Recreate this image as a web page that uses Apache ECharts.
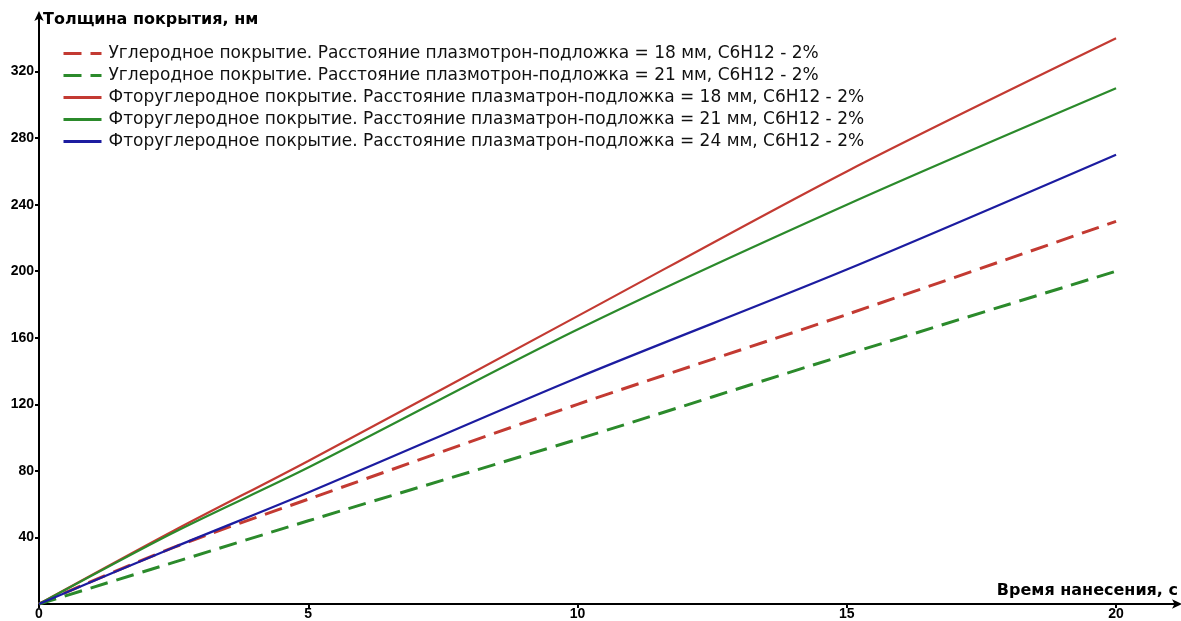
<!DOCTYPE html>
<html><head><meta charset="utf-8">
<script src="https://cdn.jsdelivr.net/npm/echarts@6/dist/echarts.min.js"></script>
<style>html,body{margin:0;padding:0;background:#fff}#c{width:1181px;height:621px}</style>
</head><body><div id="c"></div>
<script>
const timeValues = [0, 2.5, 5, 10, 15, 20];
const carbon18 = [0, 34, 63, 120, 174, 230];
const carbon21 = [0, 25, 50, 99, 150, 200];
const fluoro18 = [0, 44, 86, 173, 260, 340];
const fluoro21 = [0, 43, 82, 165, 240, 310];
const fluoro24 = [0, 34, 67, 136, 201, 270];
const seriesNames = [
  'Углеродное покрытие. Расстояние плазмотрон-подложка = 18 мм, C6H12 - 2%',
  'Углеродное покрытие. Расстояние плазмотрон-подложка = 21 мм, C6H12 - 2%',
  'Фторуглеродное покрытие. Расстояние плазматрон-подложка = 18 мм, C6H12 - 2%',
  'Фторуглеродное покрытие. Расстояние плазматрон-подложка = 21 мм, C6H12 - 2%',
  'Фторуглеродное покрытие. Расстояние плазматрон-подложка = 24 мм, C6H12 - 2%'
];
const xTicks = [0, 5, 10, 15, 20];
const yTicks = [40, 80, 120, 160, 200, 240, 280, 320];

const RED = '#c33a32', GREEN = '#2b8a2b', BLUE = '#1c1ca0';
const LAB = "'Liberation Sans', Arial, sans-serif";
const DJ = "'DejaVu Sans', sans-serif";
const pair = arr => arr.map((v, i) => [timeValues[i], v]);
function mk(name, data, color, dashed) {
  return {
    name, type: 'line', data: pair(data), symbol: 'none', smooth: 0.3,
    lineStyle: { color, width: dashed ? 3 : 2.2, type: dashed ? [18, 9] : 'solid' },
    itemStyle: { color }
  };
}
const chart = echarts.init(document.getElementById('c'));
chart.setOption({
  animation: false,
  backgroundColor: '#fff',
  textStyle: { fontFamily: LAB },
  grid: { left: 39, right: 3, top: 15, bottom: 17, containLabel: false },
  legend: {
    orient: 'vertical', left: 62, top: 45, padding: 0,
    itemWidth: 38, itemHeight: 14, itemGap: 5,
    itemStyle: { opacity: 0 },
    lineStyle: { width: 3 },
    textStyle: { fontSize: 17, color: '#111', fontFamily: DJ, padding: [0, 0, 0, 2] },
    data: seriesNames
  },
  xAxis: {
    type: 'value', min: 0, max: 21.15,
    name: 'Время нанесения, с', nameLocation: 'end', nameGap: 0,
    nameTextStyle: { align: 'right', verticalAlign: 'bottom', fontWeight: 'bold', fontSize: 16, color: '#000', fontFamily: DJ, padding: [0, 0, 5, 0] },
    axisLine: { lineStyle: { color: '#000', width: 2 }, symbol: ['none', 'arrow'], symbolSize: [7, 10], symbolOffset: [0, 4] },
    axisTick: { show: true, length: 4, inside: false, lineStyle: { color: '#000', width: 2 }, customValues: xTicks },
    axisLabel: { customValues: xTicks, color: '#000', fontWeight: 'bold', fontSize: 14, margin: 3, fontFamily: LAB },
    splitLine: { show: false }
  },
  yAxis: {
    type: 'value', min: 0, max: 354,
    name: 'Толщина покрытия, нм', nameLocation: 'end', nameGap: -5,
    nameTextStyle: { align: 'left', verticalAlign: 'middle', fontWeight: 'bold', fontSize: 16, color: '#000', fontFamily: DJ, padding: [0, 0, 0, 4] },
    axisLine: { lineStyle: { color: '#000', width: 2 }, symbol: ['none', 'arrow'], symbolSize: [7, 10], symbolOffset: [0, 4] },
    axisTick: { show: true, length: 4, lineStyle: { color: '#000', width: 2 }, customValues: yTicks },
    axisLabel: { customValues: yTicks, color: '#000', fontWeight: 'bold', fontSize: 14, margin: 5, fontFamily: LAB },
    splitLine: { show: false }
  },
  series: [
    mk(seriesNames[0], carbon18, RED, true),
    mk(seriesNames[1], carbon21, GREEN, true),
    mk(seriesNames[2], fluoro18, RED, false),
    mk(seriesNames[3], fluoro21, GREEN, false),
    mk(seriesNames[4], fluoro24, BLUE, false)
  ]
});
</script></body></html>
